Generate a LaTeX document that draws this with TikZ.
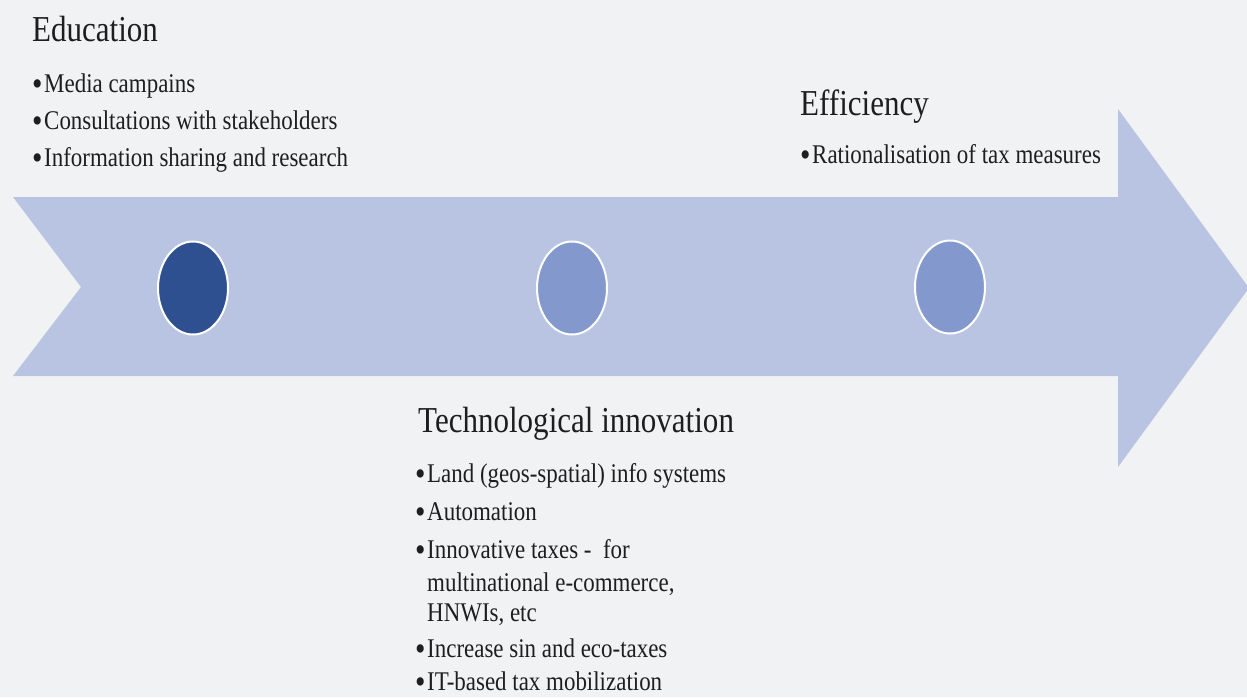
\documentclass[tikz,border=0pt]{standalone}
\usepackage{fontspec}
\usetikzlibrary{shapes.geometric}
\setmainfont{Liberation Serif}[FakeStretch=0.85]
\definecolor{pagebg}{HTML}{F1F2F4}
\definecolor{arrowfill}{HTML}{B8C4E2}
\definecolor{dotdark}{HTML}{2E5090}
\definecolor{dotlight}{HTML}{8399CE}
\definecolor{inktext}{HTML}{1E1E1E}
\begin{document}
\begin{tikzpicture}[x=1pt,y=-1pt,
  heading/.style={anchor=base west,inner sep=0pt,text=inktext,
    font=\fontsize{36.5}{40}\selectfont},
  item/.style={anchor=base west,inner sep=0pt,text=inktext,
    font=\fontsize{27}{32}\selectfont},
  dot/.style={ellipse,draw=white,line width=2pt,minimum width=70pt,minimum height=93pt,inner sep=0pt},
]
\newcommand{\bul}{\makebox[12pt][l]{\raisebox{-3pt}[0pt][0pt]{\fontsize{35}{35}\selectfont\textbullet}}}
% page background
\fill[pagebg] (0,0) rectangle (1247,697);
\useasboundingbox (0,0) rectangle (1247,697);

% chevron-tailed timeline arrow
\fill[arrowfill] (13,197) -- (1118,197) -- (1118,109) -- (1249,288)
  -- (1118,467) -- (1118,376) -- (13,376) -- (81,287) -- cycle;

% milestone markers
\node[dot,fill=dotdark]  (m1) at (193,288) {};
\node[dot,fill=dotlight] (m2) at (572,288) {};
\node[dot,fill=dotlight] (m3) at (950,287) {};

% Education
\node[heading] (edu) at (32,41) {Education};
\node[item] (edu1) at (32,92)  {\bul Media campains};
\node[item] (edu2) at (32,129) {\bul Consultations with stakeholders};
\node[item] (edu3) at (32,166) {\bul Information sharing and research};

% Efficiency
\node[heading] (eff) at (800,115) {Efficiency};
\node[item] (eff1) at (800,163) {\bul Rationalisation of tax measures};

% Technological innovation
\node[heading] (tech) at (418,432) {Technological innovation};
\node[item] (tech1) at (415,482) {\bul Land (geos-spatial) info systems};
\node[item] (tech2) at (415,520) {\bul Automation};
\node[item] (tech3) at (415,558) {\bul Innovative taxes -\ \ for};
\node[item] (tech3b) at (427,591) {multinational e-commerce,};
\node[item] (tech3c) at (427,621) {HNWIs, etc};
\node[item] (tech4) at (415,657) {\bul Increase sin and eco-taxes};
\node[item] (tech5) at (415,690) {\bul IT-based tax mobilization};
\end{tikzpicture}
\end{document}
